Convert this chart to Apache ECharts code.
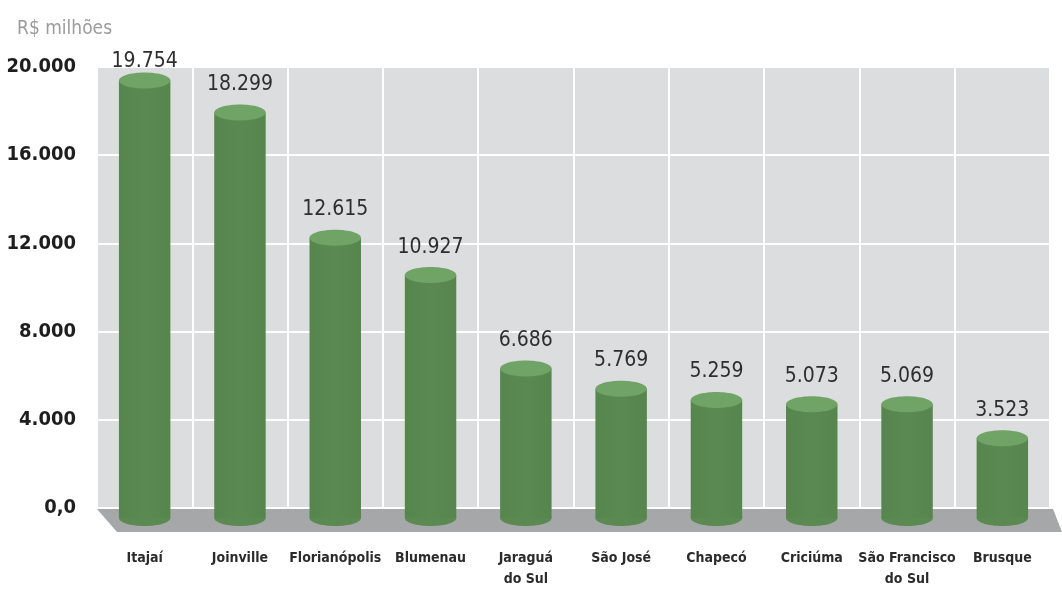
<!DOCTYPE html>
<html>
<head>
<meta charset="utf-8">
<script src="https://cdn.jsdelivr.net/npm/echarts@6/dist/echarts.min.js"></script>
<style>
  html, body { margin: 0; padding: 0; background: #ffffff; }
  #chart { width: 1062px; height: 590px; }
</style>
</head>
<body>
<div id="chart"></div>
<script>
// Municípios e valores (R$ milhões)
const categories = ['Itajaí', 'Joinville', 'Florianópolis', 'Blumenau', 'Jaraguá\ndo Sul',
  'São José', 'Chapecó', 'Criciúma', 'São Francisco\ndo Sul', 'Brusque'];
const values = [19754, 18299, 12615, 10927, 6686, 5769, 5259, 5073, 5069, 3523];
const yTicks = [0, 4000, 8000, 12000, 16000, 20000];
const unitLabel = 'R$ milhões';

const FONT = "'DejaVu Sans Condensed', 'DejaVu Sans', sans-serif";
const SIDE = '#5a8952';
const TOP = '#6fa466';
const FLOOR = '#a5a7a8';
const PANEL = '#dcdddf';

// number formatting with '.' as thousands separator
function fmt(v) {
  if (v === 0) return '0,0';
  return String(v).replace(/\B(?=(\d{3})+(?!\d))/g, '.');
}

const chart = echarts.init(document.getElementById('chart'), null, { renderer: 'canvas' });

// floor slab under the bars
function renderFloor(params, api) {
  const cs = params.coordSys;
  const y0 = api.coord([0, 0])[1];
  const depth = 24;
  return {
    type: 'polygon',
    shape: {
      points: [
        [cs.x, y0 + 1],
        [cs.x + cs.width + 3, y0 + 1],
        [cs.x + cs.width + 12, y0 + depth],
        [cs.x + 20, y0 + depth]
      ]
    },
    style: { fill: FLOOR }
  };
}

// cylinder bar with a lighter top cap and value label
function renderCylinder(params, api) {
  const idx = api.value(0);
  const val = api.value(1);
  const top = api.coord([idx, val]);
  const base = api.coord([idx, 0]);
  const bw = api.size([1, 0])[0] * 0.54;
  const rx = bw / 2;
  const ry = 8;
  const cx = top[0];
  const topY = top[1] + ry;
  const baseY = base[1] + 10;
  const labelY = Math.max(topY - ry - 20, 62);
  return {
    type: 'group',
    children: [
      {
        type: 'ellipse',
        shape: { cx: cx, cy: baseY, rx: rx, ry: ry },
        style: { fill: SIDE }
      },
      {
        type: 'rect',
        shape: { x: cx - rx, y: topY, width: bw, height: baseY - topY },
        style: {
          fill: new echarts.graphic.LinearGradient(0, 0, 1, 0, [
            { offset: 0, color: '#56854e' },
            { offset: 0.5, color: SIDE },
            { offset: 1, color: '#56854e' }
          ])
        }
      },
      {
        type: 'ellipse',
        shape: { cx: cx, cy: topY, rx: rx, ry: ry },
        style: { fill: TOP }
      },
      {
        type: 'text',
        style: {
          x: cx,
          y: labelY,
          text: fmt(values[idx]),
          align: 'center',
          verticalAlign: 'middle',
          fill: '#2e2e2e',
          font: '21px ' + FONT
        }
      }
    ]
  };
}

chart.setOption({
  animation: false,
  title: {
    text: unitLabel,
    left: 12,
    top: 15,
    textStyle: { fontFamily: FONT, fontSize: 19, fontWeight: 'normal', color: '#9b9b9b' }
  },
  grid: {
    left: 97,
    right: 12,
    top: 67,
    bottom: 82,
    outerBoundsMode: 'none',
    containLabel: false,
    show: true,
    backgroundColor: PANEL,
    borderWidth: 0
  },
  xAxis: {
    type: 'category',
    data: categories,
    axisLine: { show: false },
    axisTick: { show: false },
    splitLine: { show: true, lineStyle: { color: '#ffffff', width: 2 } },
    axisLabel: {
      margin: 40,
      verticalAlign: 'top',
      lineHeight: 21,
      fontFamily: FONT,
      fontWeight: 'bold',
      fontSize: 14,
      color: '#2b2b2b',
      interval: 0,
      hideOverlap: false
    }
  },
  yAxis: {
    type: 'value',
    min: yTicks[0],
    max: yTicks[yTicks.length - 1],
    interval: yTicks[1] - yTicks[0],
    axisLine: { show: false },
    axisTick: { show: false },
    splitLine: { show: true, lineStyle: { color: '#ffffff', width: 2 } },
    axisLabel: {
      margin: 21,
      fontFamily: FONT,
      fontWeight: 'bold',
      fontSize: 20,
      color: '#1e1e1e',
      formatter: fmt
    }
  },
  series: [
    {
      type: 'custom',
      z: 1,
      renderItem: renderFloor,
      data: [[0, 0]],
      silent: true
    },
    {
      type: 'custom',
      z: 2,
      renderItem: renderCylinder,
      encode: { x: 0, y: 1 },
      data: values.map((v, i) => [i, v]),
      clip: false
    }
  ]
});
</script>
</body>
</html>
